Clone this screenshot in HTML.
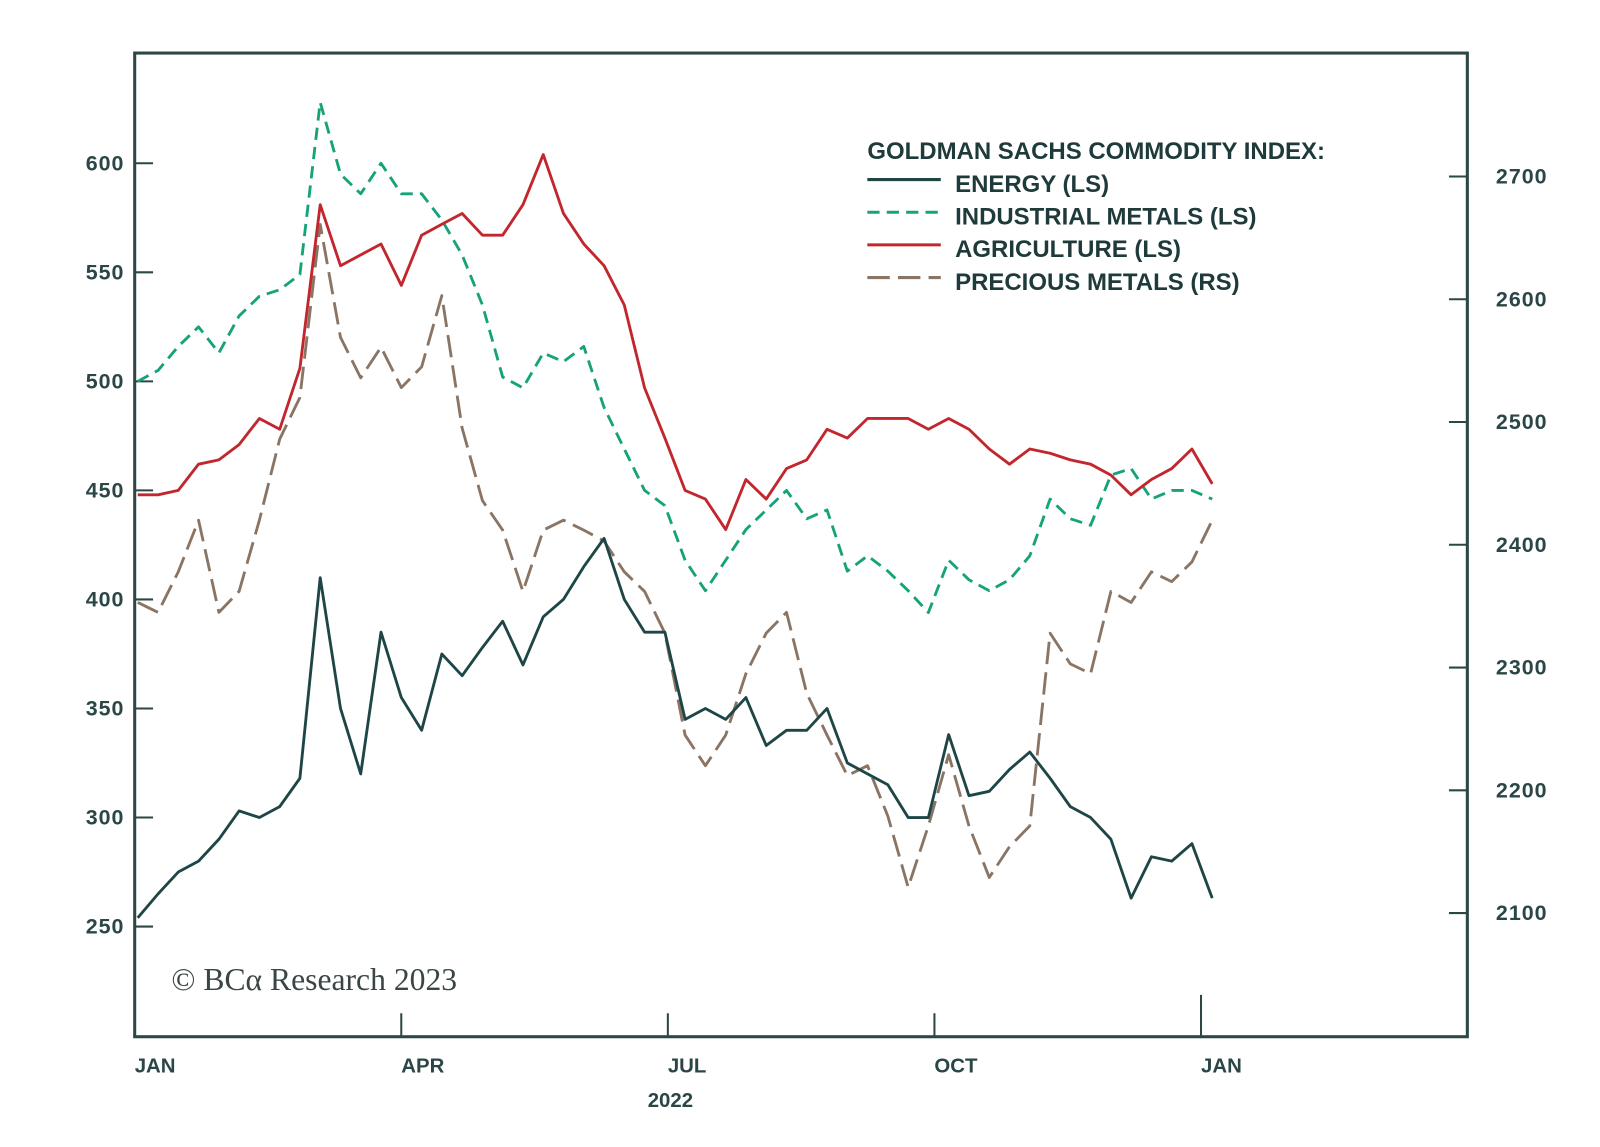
<!DOCTYPE html>
<html><head><meta charset="utf-8"><style>
html,body{margin:0;padding:0;background:#fff;}
svg{display:block;font-family:"Liberation Sans",sans-serif;}
</style></head><body>
<svg id="chart" width="1600" height="1147" viewBox="0 0 1600 1147" xmlns="http://www.w3.org/2000/svg">
<g transform="scale(1.0204)">
<rect x="132" y="52" width="1306" height="964" fill="none" stroke="#2d4646" stroke-width="3"/>
<g id="axes"></g>
<g id="series"></g>
<g font-size="23.5" fill="#1f3a3a">
<text x="850" y="156" font-weight="bold">GOLDMAN SACHS COMMODITY INDEX:</text>
<line x1="850" y1="176" x2="922" y2="176" stroke="#1f4646" stroke-width="3"/>
<text x="936" y="188" font-weight="bold">ENERGY (LS)</text>
<line x1="850" y1="208" x2="922" y2="208" stroke="#16a37a" stroke-width="3" stroke-dasharray="12,7"/>
<text x="936" y="220" font-weight="bold">INDUSTRIAL METALS (LS)</text>
<line x1="850" y1="240" x2="922" y2="240" stroke="#c1272d" stroke-width="3"/>
<text x="936" y="252" font-weight="bold">AGRICULTURE (LS)</text>
<line x1="850" y1="272" x2="922" y2="272" stroke="#8a7565" stroke-width="3" stroke-dasharray="22,8"/>
<text x="936" y="284" font-weight="bold">PRECIOUS METALS (RS)</text>
</g>
<text x="168" y="970" font-family="Liberation Serif,serif" font-size="31" fill="#3a4545">© BCα Research 2023</text>
</g>
</svg>
<script>
const leftTicks=[250,300,350,400,450,500,550,600];
const rightTicks=[2100,2200,2300,2400,2500,2600,2700];
const monthLabels=["JAN","APR","JUL","OCT","JAN"];
const monthPos=[0,1,2,3,4];
const yearLabel="2022";
const energy=[254,265,275,280,290,303,300,305,318,410,350,320,385,355,340,375,365,378,390,370,392,400,415,428,400,385,385,345,350,345,355,333,340,340,350,325,320,315,300,300,338,310,312,322,330,318,305,300,290,263,282,280,288,263];
const industrial=[500,505,516,525,513,530,539,542,549,628,595,586,600,586,586,574,558,535,502,497,513,509,516,488,469,450,443,418,404,418,432,441,450,437,441,413,420,413,404,394,418,409,404,409,420,446,437,434,457,460,446,450,450,446];
const agriculture=[448,448,450,462,464,471,483,478,506,581,553,558,563,544,567,572,577,567,567,581,604,577,563,553,535,497,474,450,446,432,455,446,460,464,478,474,483,483,483,478,483,478,469,462,469,467,464,462,457,448,455,460,469,453];
const precious=[2353,2345,2378,2420,2345,2362,2420,2486,2520,2661,2569,2536,2561,2528,2545,2603,2495,2436,2412,2362,2412,2420,2412,2403,2378,2362,2328,2245,2220,2245,2295,2328,2345,2279,2245,2212,2220,2179,2121,2171,2229,2171,2129,2154,2171,2328,2303,2295,2362,2353,2378,2370,2386,2420];

const NS="http://www.w3.org/2000/svg";
const yL=v=>160+(600-v)/50*106.86;
const yR=v=>173+(2700-v)/100*120.3;
const xQ=q=>132+q*261.25;
const xI=(i,n)=>135+i*(1188-135)/(n-1);
function mk(tag,attrs,parent){const e=document.createElementNS(NS,tag);for(const k in attrs)e.setAttribute(k,attrs[k]);parent.appendChild(e);return e;}
const ax=document.getElementById('axes');
leftTicks.forEach(v=>{
 const l=mk('line',{x1:132,x2:150,y1:yL(v),y2:yL(v),stroke:'#2d4646','stroke-width':2},ax);
 
 
 const t=mk('text',{x:122,y:yL(v)+7,'text-anchor':'end','font-size':21,'font-weight':'bold',fill:'#2b4646','letter-spacing':1},ax);
 
 
 t.textContent=v;
});
rightTicks.forEach(v=>{
 const l=mk('line',{x1:1420,x2:1438,y1:yR(v),y2:yR(v),stroke:'#2d4646','stroke-width':2},ax);
 
 
 const t=mk('text',{x:1466,y:yR(v)+7,'font-size':21,'font-weight':'bold',fill:'#2b4646','letter-spacing':1},ax);
 
 
 t.textContent=v;
});
monthPos.forEach((q,i)=>{
 if(q>0){const l=mk('line',{x1:xQ(q),x2:xQ(q),y1:q===4?975:993,y2:1016,stroke:'#2d4646','stroke-width':2},ax);
 
 }
 const t=mk('text',{x:xQ(q),y:1051,'font-size':20,'font-weight':'bold',fill:'#2b4646'},ax);
 
 
 t.textContent=monthLabels[i];
});
const yt=mk('text',{x:657,y:1085,'text-anchor':'middle','font-size':20,'font-weight':'bold',fill:'#2b4646'},ax);


yt.textContent=yearLabel;
const sg=document.getElementById('series');
function line(arr,yf,color,dash,name){
 const d=arr.map((v,i)=>(i?'L':'M')+xI(i,arr.length).toFixed(1)+','+yf(v).toFixed(1)).join('');
 const p=mk('path',{d:d,fill:'none',stroke:color,'stroke-width':2.8,'stroke-linejoin':'round'},sg);
 if(dash)p.setAttribute('stroke-dasharray',dash);
 
 
}
line(precious,yR,'#8a7565','22,8','precious-metals-line');
line(industrial,yL,'#16a37a','12,7','industrial-metals-line');
line(agriculture,yL,'#c1272d',null,'agriculture-line');
line(energy,yL,'#1f4646',null,'energy-line');
</script>
</body></html>
